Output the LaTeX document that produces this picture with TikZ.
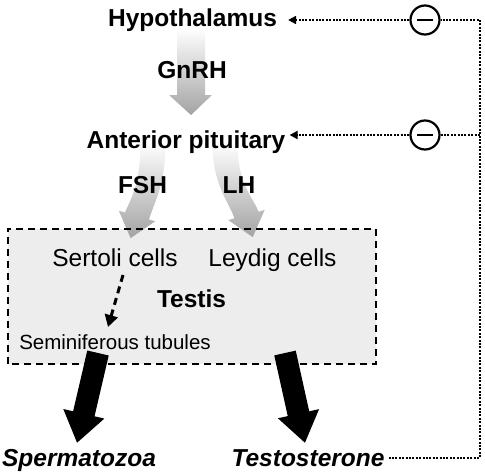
\documentclass[tikz,border=0pt]{standalone}
\usepackage{fontspec}
\setmainfont{Liberation Sans}
\usetikzlibrary{arrows.meta}
\definecolor{boxgray}{HTML}{EDEDED}
\definecolor{arrowgray}{HTML}{A3A3A3}
\begin{document}
\begin{tikzpicture}[x=1pt,y=-1pt,
  bt/.style={inner sep=0pt, anchor=base, font=\fontsize{24.5}{28}\selectfont\bfseries},
  bit/.style={inner sep=0pt, anchor=base, font=\fontsize{24.5}{28}\selectfont\bfseries\itshape},
  rt/.style={inner sep=0pt, anchor=base, font=\fontsize{24.5}{28}\selectfont},
  st/.style={inner sep=0pt, anchor=base, font=\fontsize{20.5}{24}\selectfont},
  dotline/.style={line width=1.9pt, dash pattern=on 2pt off 1.4pt},
  fbarrow/.style={dotline, -{Triangle[width=8pt,length=8pt]}},
  minus/.style={circle, draw, line width=2.2pt, minimum size=29pt, inner sep=0pt, fill=white},
  grayarrow/.style={top color=white, bottom color=arrowgray, draw=none},
  blackarrow/.style={line width=22pt, -{Triangle[width=40pt,length=30pt]}},
  boxfill/.style={fill=boxgray, draw=none, minimum width=368pt, minimum height=135pt, inner sep=0pt},
  boxline/.style={line width=1.6pt, dash pattern=on 7pt off 5pt}
]
\useasboundingbox (0,0) rectangle (485,472);

% testis box background
\node[boxfill] (box) at (192,296.5) {};

% gray shaded arrows
\shade[grayarrow] (177,28) -- (177,95) -- (169,95) -- (191,115) -- (212,95) -- (205,95) -- (205,28) -- cycle;
\shade[grayarrow] (140.5,142) .. controls (140.5,185) and (131,198) .. (125,212.5) -- (118.8,210.7) -- (130.6,238.1) -- (155.2,221.3) -- (149,219.5) .. controls (155,200) and (165.5,185) .. (165.5,142) -- cycle;
\shade[grayarrow] (212.5,142) .. controls (212.5,185) and (228,200) .. (234.5,218.4) -- (228.3,220.1) -- (252.7,237.1) -- (264.7,209.9) -- (258.5,211.6) .. controls (252,195) and (237.5,185) .. (237.5,142) -- cycle;

\draw[boxline] (box.south west) rectangle (box.north east);

% texts
\node[bt] (hyp) at (192.5,26.7) {Hypothalamus};
\node[bt] (gnrh) at (192,78) {GnRH};
\node[bt] (ant) at (186,148) {Anterior pituitary};
\node[bt] (fsh) at (142.5,193) {FSH};
\node[bt] (lh) at (239,193) {LH};
\node[rt] (sert) at (115,266) {Sertoli cells};
\node[rt] (leyd) at (272.5,266) {Leydig cells};
\node[bt] (testis) at (191.5,307) {Testis};
\node[st] (semi) at (115,349) {Seminiferous tubules};
\node[bit] (sperm) at (79,466) {Spermatozoa};
\node[bit] (testo) at (308,466) {Testosterone};

% dashed arrow Sertoli -> seminiferous
\coordinate (d1) at (123,275);
\coordinate (d2) at (108,327);
\draw[line width=3pt, dash pattern=on 7pt off 5pt, -{Triangle[width=13pt,length=12pt]}] (d1) -- (d2);

% black arrows
\coordinate (s1) at (98,353);
\coordinate (s2) at (77,443);
\coordinate (t1) at (285,353);
\coordinate (t2) at (305,443);
\draw[blackarrow] (s1) -- (s2);
\draw[blackarrow] (t1) -- (t2);

% feedback
\node[minus] (m1) at (425,20) {\rule{16pt}{2.2pt}};
\node[minus] (m2) at (425,135) {\rule{16pt}{2.2pt}};
\coordinate (cr) at (480,20);
\draw[dotline] ([xshift=4pt]testo.east) -| (cr) -- (m1.east);
\draw[dotline] (cr |- m2) -- (m2.east);
\draw[fbarrow] (m1.west) -- ([xshift=11pt]m1.west -| hyp.east);
\draw[fbarrow] (m2.west) -- ([xshift=4pt]m2.west -| ant.east);
\end{tikzpicture}
\end{document}
